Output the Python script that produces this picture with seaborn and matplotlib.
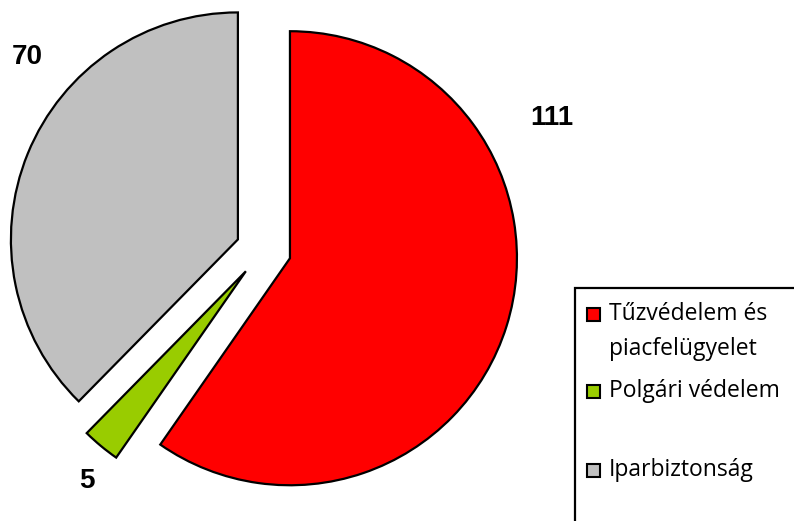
import matplotlib
matplotlib.use('Agg')
import matplotlib.pyplot as plt
import matplotlib.patches as mpatches
import seaborn as sns

sns.set_theme(style='white')
plt.rcParams['font.family'] = ['Open Sans', 'DejaVu Sans']
plt.rcParams['text.color'] = 'black'

# adatok
kategoriak = ['Tűzvédelem és\npiacfelügyelet', 'Polgári védelem', 'Iparbiztonság']
ertekek = [111, 5, 70]
szinek = ['#FF0000', '#99CC00', '#C0C0C0']

# címkék helye (adat koordináta, sugár = 1)
cimke_hely = [(1.27, 0.58), (-0.78, -1.02), (-1.04, 0.85)]

W, H = 794, 521
fig = plt.figure(figsize=(W / 100, H / 100), dpi=100)
ax = fig.add_axes([0, 0, 1, 1])

wedges, _ = ax.pie(ertekek, colors=szinek, startangle=90, counterclock=False,
                   explode=[0.122] * len(ertekek),
                   wedgeprops=dict(edgecolor='black', linewidth=1.6))

ax.set_xlim(-1.161, 2.337)
ax.set_ylim(-1.194, 1.101)
ax.set_aspect('auto')
ax.axis('off')

for (x, y), v in zip(cimke_hely, ertekek):
    ax.text(x, y, str(v), fontsize=20, fontweight='bold', ha='center', va='center',
            color='black', family=['Liberation Sans', 'DejaVu Sans'])


def px(x, y):
    return x / W, 1 - y / H


# jelmagyarázat
fig.patches.append(mpatches.Rectangle(px(575, 560), 300 / W, 272 / H, transform=fig.transFigure,
                                      facecolor='white', edgecolor='black', linewidth=1.6, zorder=0))
sor_y = [314, 391, 470]
for kat, szin, y in zip(kategoriak, szinek, sor_y):
    fig.patches.append(mpatches.Rectangle(px(587, y + 6.5), 13 / W, 13 / H, transform=fig.transFigure,
                                          facecolor=szin, edgecolor='black', linewidth=1.5))
    for i, sor in enumerate(kat.split('\n')):
        fig.text(*px(609, y + i * 35), sor, fontsize=16.5, ha='left', va='center', color='black')

fig.savefig('out.png', dpi=100)
